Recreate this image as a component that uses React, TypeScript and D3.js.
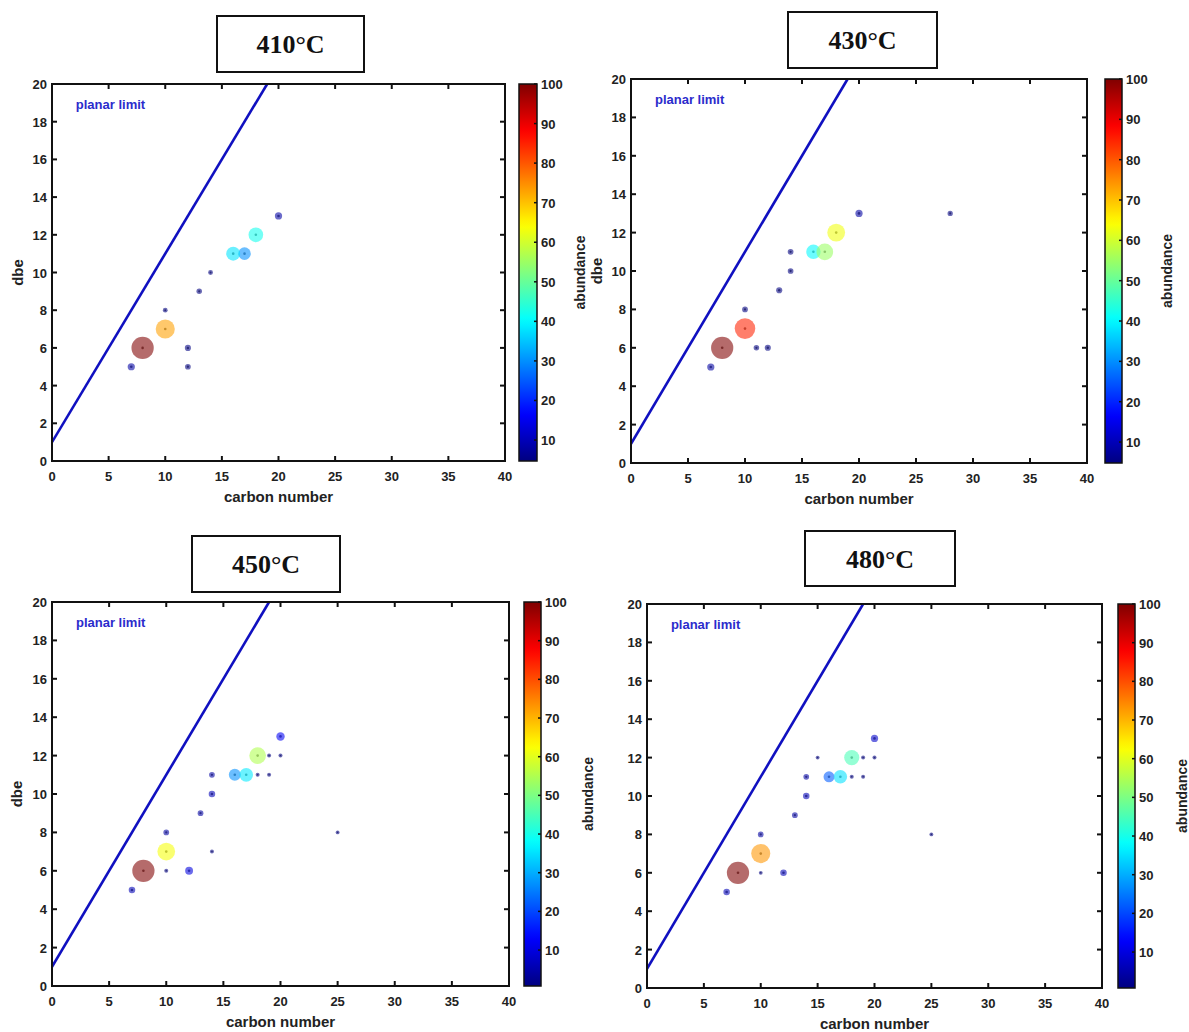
import React from "react";
import * as d3 from "d3";

// ---------- data ----------
const TITLES = ["410°C", "430°C", "450°C", "480°C"];
const X_TICKS = [0, 5, 10, 15, 20, 25, 30, 35, 40];
const Y_TICKS = [0, 2, 4, 6, 8, 10, 12, 14, 16, 18, 20];
const CB_TICKS = [10, 20, 30, 40, 50, 60, 70, 80, 90, 100];
const CB_MIN = [4.7, 4.8, 0.7, 0.7];
const PLANAR_LIMIT_C = [0, 19];
const PLANAR_LIMIT_DBE = [1, 20];

const c410 = [8, 10, 18, 16, 17, 20, 7, 12, 12, 10, 13, 14];
const dbe410 = [6, 7, 12, 11, 11, 13, 5, 6, 5, 8, 9, 10];
const ab410 = [100, 73, 42, 38, 30, 8, 8, 5, 4, 2, 3.5, 2];

const c430 = [8, 10, 18, 17, 16, 20, 28, 7, 14, 14, 13, 10, 11, 12];
const dbe430 = [6, 7, 12, 11, 11, 13, 13, 5, 11, 10, 9, 8, 6, 6];
const ab430 = [100, 85, 63, 55, 40, 8, 3, 8, 4, 4, 5, 4, 3.5, 5];

const c450 = [8, 10, 18, 17, 16, 20, 12, 7, 14, 14, 13, 10, 19, 20, 18, 19, 14, 10, 25];
const dbe450 = [6, 7, 12, 11, 11, 13, 6, 5, 10, 11, 9, 8, 12, 12, 11, 11, 7, 6, 8];
const ab450 = [100, 62, 55, 36, 27, 12, 10, 6, 6, 4, 4, 4, 0.5, 0.5, 0.5, 0.5, 0.5, 0.5, 0.3];

const c480 = [8, 10, 18, 17, 16, 20, 7, 12, 14, 14, 13, 10, 15, 19, 20, 18, 19, 10, 25];
const dbe480 = [6, 7, 12, 11, 11, 13, 5, 6, 10, 11, 9, 8, 12, 12, 12, 11, 11, 6, 8];
const ab480 = [100, 73, 45, 35, 22, 8, 6, 6, 6, 4, 4, 4, 0.3, 0.5, 0.5, 0.5, 0.5, 0.2, 0.3];

const SERIES = [
  { c: c410, dbe: dbe410, ab: ab410 },
  { c: c430, dbe: dbe430, ab: ab430 },
  { c: c450, dbe: dbe450, ab: ab450 },
  { c: c480, dbe: dbe480, ab: ab480 },
];

// ---------- layout ----------
const LAYOUT = [
  { left: 52, right: 505, top: 84, bottom: 461, cbL: 519, cbR: 537, box: [217, 16, 147, 56], abX: 580, dbeX: 18, xlabY: 502 },
  { left: 631, right: 1087, top: 79, bottom: 463, cbL: 1105, cbR: 1122, box: [788, 12, 149, 56], abX: 1167, dbeX: 597, xlabY: 504 },
  { left: 52, right: 509, top: 602, bottom: 986, cbL: 524, cbR: 541, box: [192, 536, 148, 56], abX: 588, dbeX: 17, xlabY: 1027 },
  { left: 647, right: 1102, top: 604, bottom: 988, cbL: 1118, cbR: 1135, box: [805, 531, 150, 55], abX: 1182, dbeX: null, xlabY: 1029 },
];

const FONT = "'Liberation Sans', Arial, sans-serif";
const jet = d3
  .scaleLinear<string>()
  .domain([0, 0.125, 0.375, 0.625, 0.875, 1])
  .range(["#000080", "#0000ff", "#00ffff", "#ffff00", "#ff0000", "#800000"])
  .interpolate(d3.interpolateRgb)
  .clamp(true);

// marker area grows linearly with abundance, from a small base marker
const areaScale = d3.scaleLinear().domain([0, 100]).range([3.4, 124]);
const rOf = (a: number) => Math.sqrt(areaScale(a));

function Panel({ idx }: { idx: number }) {
  const L = LAYOUT[idx];
  const S = SERIES[idx];
  const x = d3.scaleLinear().domain([0, 40]).range([L.left, L.right]);
  const y = d3.scaleLinear().domain([0, 20]).range([L.bottom, L.top]);
  const cmin = CB_MIN[idx];
  const cnorm = d3.scaleLinear().domain([cmin, 100]).range([0, 1]).clamp(true);
  const cbY = d3.scaleLinear().domain([cmin, 100]).range([L.bottom, L.top]);
  const clipId = `clip${idx}`;
  const gradId = `grad${idx}`;
  const stops = d3.range(0, 1.0001, 0.02);
  const tick = 5;
  const line = d3
    .line<number>()
    .x((_, i) => x(PLANAR_LIMIT_C[i]))
    .y((d) => y(d));

  const pts = S.c
    .map((c, i) => ({ c, d: S.dbe[i], a: S.ab[i] }))
    .sort((p, q) => p.a - q.a);

  return (
    <g>
      <defs>
        <clipPath id={clipId}>
          <rect x={L.left} y={L.top} width={L.right - L.left} height={L.bottom - L.top} />
        </clipPath>
        <linearGradient id={gradId} x1="0" y1="1" x2="0" y2="0">
          {stops.map((s) => (
            <stop key={s} offset={s} stopColor={jet(s)} />
          ))}
        </linearGradient>
      </defs>
      {/* title box */}
      <rect x={L.box[0]} y={L.box[1]} width={L.box[2]} height={L.box[3]} fill="white" stroke="#111" strokeWidth={2} />
      <text
        x={L.box[0] + L.box[2] / 2}
        y={L.box[1] + L.box[3] / 2 + 9}
        textAnchor="middle"
        fontFamily="'Liberation Serif', 'Times New Roman', serif"
        fontWeight="bold"
        fontSize={26}
        fill="#111"
      >
        {TITLES[idx]}
      </text>

      {/* planar limit line */}
      <path d={line(PLANAR_LIMIT_DBE) || ""} clipPath={`url(#${clipId})`} stroke="#1010c0" strokeWidth={2.6} fill="none" />
      <text x={x(2.1)} y={y(18.7)} fontFamily={FONT} fontWeight="bold" fontSize={13} fill="#2b2bcc">
        planar limit
      </text>

      {/* points */}
      <g clipPath={`url(#${clipId})`}>
        {pts.map((p, i) => {
          const col = jet(cnorm(p.a));
          const r = rOf(p.a);
          return (
            <g key={i}>
              <circle cx={x(p.c)} cy={y(p.d)} r={r} fill={col} fillOpacity={0.58} />
              <circle
                cx={x(p.c)}
                cy={y(p.d)}
                r={Math.min(1.3, r * 0.4)}
                fill={d3.color(col)!.darker(1.3).formatHex()}
                fillOpacity={0.6}
              />
            </g>
          );
        })}
      </g>

      {/* axes box */}
      <rect x={L.left} y={L.top} width={L.right - L.left} height={L.bottom - L.top} fill="none" stroke="#111" strokeWidth={2} />
      {X_TICKS.map((t) => (
        <g key={"x" + t}>
          <line x1={x(t)} x2={x(t)} y1={L.bottom} y2={L.bottom - tick} stroke="#111" strokeWidth={2} />
          <line x1={x(t)} x2={x(t)} y1={L.top} y2={L.top + tick} stroke="#111" strokeWidth={2} />
          <text x={x(t)} y={L.bottom + 20} textAnchor="middle" fontFamily={FONT} fontWeight="bold" fontSize={13} fill="#222">
            {t}
          </text>
        </g>
      ))}
      {Y_TICKS.map((t) => (
        <g key={"y" + t}>
          <line x1={L.left} x2={L.left + tick} y1={y(t)} y2={y(t)} stroke="#111" strokeWidth={2} />
          <line x1={L.right} x2={L.right - tick} y1={y(t)} y2={y(t)} stroke="#111" strokeWidth={2} />
          <text x={L.left - 5} y={y(t) + 5} textAnchor="end" fontFamily={FONT} fontWeight="bold" fontSize={13} fill="#222">
            {t}
          </text>
        </g>
      ))}
      <text x={(L.left + L.right) / 2} y={L.xlabY} textAnchor="middle" fontFamily={FONT} fontWeight="bold" fontSize={15} fill="#222">
        carbon number
      </text>
      {L.dbeX !== null && (
        <text
          transform={`translate(${L.dbeX},${(L.top + L.bottom) / 2}) rotate(-90)`}
          textAnchor="middle"
          dy={5}
          fontFamily={FONT}
          fontWeight="bold"
          fontSize={15}
          fill="#222"
        >
          dbe
        </text>
      )}

      {/* colorbar */}
      <rect x={L.cbL} y={L.top} width={L.cbR - L.cbL} height={L.bottom - L.top} fill={`url(#${gradId})`} stroke="#111" strokeWidth={1.5} />
      {CB_TICKS.map((t) => (
        <g key={"c" + t}>
          <line x1={L.cbR} x2={L.cbR - 3} y1={cbY(t)} y2={cbY(t)} stroke="#111" strokeWidth={1.5} />
          <text x={L.cbR + 4} y={cbY(t) + 5} fontFamily={FONT} fontWeight="bold" fontSize={13} fill="#222">
            {t}
          </text>
        </g>
      ))}
      <text
        transform={`translate(${L.abX},${(L.top + L.bottom) / 2}) rotate(-90)`}
        textAnchor="middle"
        dy={5}
        fontFamily={FONT}
        fontWeight="bold"
        fontSize={14}
        fill="#222"
      >
        abundance
      </text>
    </g>
  );
}

export default function App() {
  return (
    <svg
      width={1189}
      height={1032}
      style={{ position: "absolute", left: 0, top: 0, background: "white" }}
    >
      <rect width={1189} height={1032} fill="white" />
      {[0, 1, 2, 3].map((i) => (
        <Panel key={i} idx={i} />
      ))}
    </svg>
  );
}
